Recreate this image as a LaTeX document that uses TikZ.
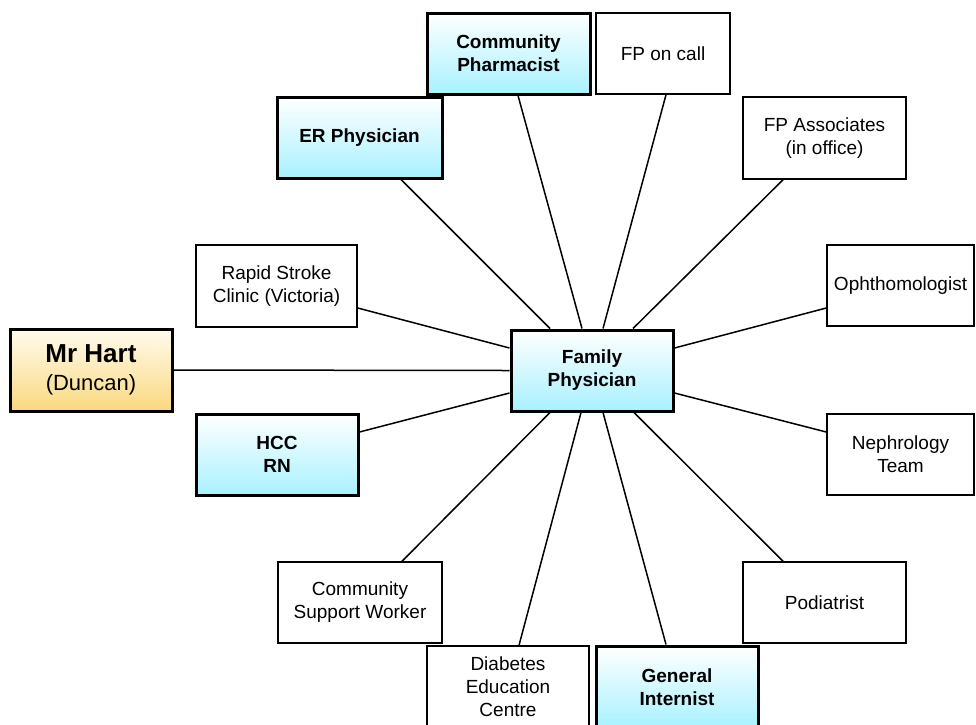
\documentclass[tikz,border=0pt]{standalone}
\usepackage{fontspec}
\setmainfont{Liberation Sans}
\definecolor{cyanbot}{RGB}{168,241,255}
\definecolor{harttop}{RGB}{255,251,238}
\definecolor{hartbot}{RGB}{250,216,128}
\tikzset{
  box/.style={draw=black, line width=1.5pt, rectangle, inner sep=0pt, align=center,
    font=\fontsize{19}{23}\selectfont, text=black, fill=white},
  hub/.style={box, line width=3pt, top color=white, bottom color=cyanbot,
    font=\bfseries\fontsize{19}{23}\selectfont},
  client/.style={box, line width=3pt, top color=harttop, bottom color=hartbot},
  link/.style={line width=1.5pt, draw=black}
}
\begin{document}
\begin{tikzpicture}[x=1pt,y=-1pt]
\useasboundingbox (0,0) rectangle (976,724);
\clip (0,0) rectangle (976,724);
% boxes
\node[hub, minimum width=163pt, minimum height=81pt] (pharm) at (508.5,53.5) {Community\\Pharmacist};
\node[box, minimum width=134pt, minimum height=81pt] (oncall) at (663,53.5) {FP on call};
\node[hub, minimum width=165pt, minimum height=81pt] (er) at (359.5,137.5) {ER Physician};
\node[box, minimum width=163pt, minimum height=82pt] (assoc) at (824.5,138) {FP Associates\\(in office)};
\node[box, minimum width=161pt, minimum height=82pt] (rapid) at (276.5,286) {Rapid Stroke\\Clinic (Victoria)};
\node[box, minimum width=147pt, minimum height=81pt] (ophth) at (900.5,285.5) {Ophthomologist};
\node[client, minimum width=162pt, minimum height=82pt] (hart) at (91,370)
  {{\fontsize{26}{30}\selectfont\bfseries Mr Hart}\\[5pt]{\fontsize{22}{26}\selectfont (Duncan)}};
\node[hub, minimum width=162pt, minimum height=81pt] (fp) at (592,370.5) {Family\\Physician};
\node[hub, minimum width=162pt, minimum height=81pt] (hcc) at (277,454.5) {HCC\\RN};
\node[box, minimum width=147pt, minimum height=81pt] (neph) at (900.5,454.5) {Nephrology\\Team};
\node[box, minimum width=164pt, minimum height=81pt] (csw) at (360,602.5) {Community\\Support Worker};
\node[box, minimum width=163pt, minimum height=81pt] (pod) at (824.5,602.5) {Podiatrist};
\node[box, minimum width=162pt, minimum height=82pt] (diab) at (508,687) {Diabetes\\Education\\Centre};
\node[hub, minimum width=162pt, minimum height=82pt] (gi) at (677,687) {General\\Internist};
% connectors
\draw[link] ([xshift=9.5pt]pharm.south) -- ([xshift=-10pt]fp.north);
\draw[link] ([xshift=3pt]oncall.south) -- ([xshift=11pt]fp.north);
\draw[link] ([xshift=41.5pt]er.south) -- ([xshift=-42pt]fp.north);
\draw[link] ([xshift=-41.5pt]assoc.south) -- ([xshift=41pt]fp.north);
\draw[link] ([yshift=-22pt]rapid.east) -- ([yshift=22.5pt]fp.west);
\draw[link] ([yshift=-22.5pt]ophth.west) -- ([yshift=22.5pt]fp.east);
\draw[link] (hart.east) -- (fp.west);
\draw[link] ([yshift=22.5pt]hcc.east) -- ([yshift=-22.5pt]fp.west);
\draw[link] ([yshift=22.5pt]neph.west) -- ([yshift=-22.5pt]fp.east);
\draw[link] ([xshift=42pt]csw.north) -- ([xshift=-42pt]fp.south);
\draw[link] ([xshift=-41.5pt]pod.north) -- ([xshift=42pt]fp.south);
\draw[link] ([xshift=11pt]diab.north) -- ([xshift=-11pt]fp.south);
\draw[link] ([xshift=-11pt]gi.north) -- ([xshift=11pt]fp.south);
\end{tikzpicture}
\end{document}
